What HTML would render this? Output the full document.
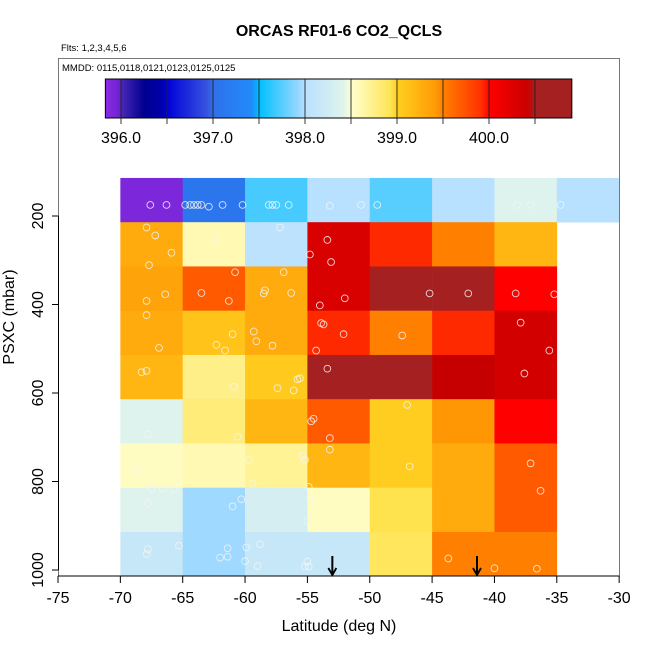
<!DOCTYPE html>
<html><head><meta charset="utf-8"><style>
html,body{margin:0;padding:0;background:#fff;}
svg text{font-family:"Liberation Sans",Arial,sans-serif;}
</style></head><body>
<svg id="chart" width="650" height="650" viewBox="0 0 650 650" xmlns="http://www.w3.org/2000/svg">
<defs id="defs"></defs>
<text x="339" y="36" text-anchor="middle" font-size="16" font-weight="bold">ORCAS RF01-6 CO2_QCLS</text>
<text x="61" y="51" font-size="9.5">Flts: 1,2,3,4,5,6</text>
<g id="cells"></g>
<g id="points"></g>
<g id="arrows"></g>
<rect x="58.5" y="58.5" width="561" height="517.5" fill="none" stroke="#777" stroke-width="1"/>
<text x="62" y="71" font-size="9.5">MMDD: 0115,0118,0121,0123,0125,0125</text>
<g id="colorbar"></g>
<g id="xaxis"></g>
<g id="yaxis"></g>
<text x="339" y="631" text-anchor="middle" font-size="16">Latitude (deg N)</text>
<text transform="translate(14,317) rotate(-90)" text-anchor="middle" font-size="16">PSXC (mbar)</text>
</svg>
<script>
const latBins = [-70,-65,-60,-55,-50,-45,-40,-35];
const presBins = [114,214,314,414,514,614,714,814,914,1014];
const row1 = [395.9,397.1,397.7,398.0,397.75,398.0,398.4,398.0];
const row2 = [399.3,398.6,398.05,400.3,399.95,399.5,399.2,null];
const row3 = [399.35,399.7,399.3,400.3,400.7,400.65,400.0,null];
const row4 = [399.3,399.1,399.3,399.95,399.5,399.95,400.35,null];
const row5 = [399.2,398.75,399.05,400.55,400.5,400.45,400.35,null];
const row6 = [398.4,398.8,399.2,399.7,399.02,399.45,400.0,null];
const row7 = [398.55,398.6,398.7,399.2,399.02,399.3,399.7,null];
const row8 = [398.4,397.95,398.3,398.55,398.95,399.3,399.7,null];
const row9 = [398.15,397.95,398.15,398.15,398.9,399.5,399.5,null];
const pointLat = [-67.6,-66.3,-64.8,-64.4,-64.1,-63.8,-63.5,-62.9,-61.8,-60.2,-58.1,-57.8,-57.5,-56.5,-53.2,-50.7,-49.4,-38.2,-37.1,-34.7,
-67.9,-67.2,-65.9,-67.7,-62.3,-57.2,-53.4,-54.8,-53.1,-60.8,-56.9,-63.5,-61.3,-58.4,-58.5,-56.3,-66.4,-67.9,-52.0,-54.0,-45.2,-42.1,-38.3,-35.2,
-67.9,-66.9,-61.0,-62.3,-61.6,-59.3,-59.1,-57.8,-53.9,-53.7,-52.1,-54.3,-47.4,-37.9,-35.6,
-68.3,-67.9,-60.9,-57.4,-56.1,-55.8,-55.6,-53.4,-37.6,
-67.8,-60.6,-47.0,-54.5,-54.7,-53.2,-53.2,
-68.7,-59.7,-55.4,-55.2,-46.8,-37.1,-59.4,
-67.5,-66.6,-65.7,-67.8,-60.3,-61.0,-54.9,-54.8,-55.0,-36.3,
-67.8,-67.9,-65.3,-61.4,-62.0,-61.4,-59.9,-58.8,-60.0,-59.0,-55.0,-55.2,-54.9,-43.7,-40.0,-36.6];
const pointPres = [175,175,175,175,175,175,175,179,175,175,175,175,175,175,177,175,175,175,175,175,
226,244,283,311,254,226,254,287,304,327,327,374,392,368,375,374,377,392,386,402,375,375,375,377,
424,498,467,491,504,461,483,493,442,445,467,504,470,441,504,
553,550,586,589,594,569,567,545,556,
694,699,627,658,664,702,728,
772,752,742,751,766,759,805,
815,815,817,849,840,856,812,839,889,821,
953,964,945,951,972,970,949,942,980,991,981,992,992,974,996,997];
const arrowLat = [-53.0,-41.4];
const xTicks = [-75,-70,-65,-60,-55,-50,-45,-40,-35,-30];
const yTicks = [200,400,600,800,1000];
const cbTicks = [396.0,397.0,398.0,399.0,400.0];
const cbBreaks = [396.0,396.5,397.0,397.5,398.0,398.5,399.0,399.5,400.0,400.5];

const NS='http://www.w3.org/2000/svg';
function X(lat){return 58 + (lat+75)*12.47;}
function Y(p){return 570 - (1000-p)*0.4425;}
function CX(v){return 121 + (v-396)*92;}
function el(tag,attrs,parent){const e=document.createElementNS(NS,tag);for(const k in attrs)e.setAttribute(k,attrs[k]);parent.appendChild(e);return e;}
const stops=[[395.83,'#8a2be2'],[395.999,'#6a22d0'],[396.0,'#4b28b8'],[396.25,'#000090'],[396.499,'#0000b0'],[396.5,'#0000d8'],[396.999,'#4060e0'],[397.0,'#3070e8'],[397.499,'#1e90ff'],[397.5,'#00bfff'],[397.999,'#b0dcff'],[398.0,'#b8e0ff'],[398.499,'#e8f8e8'],[398.5,'#ffffd0'],[398.999,'#ffe040'],[399.0,'#ffd020'],[399.499,'#ff9000'],[399.5,'#ff8000'],[399.999,'#ff2000'],[400.0,'#ff0000'],[400.499,'#c00000'],[400.5,'#a52020'],[401,'#a52020']];
function hex(c){return [1,3,5].map(i=>parseInt(c.substr(i,2),16));}
function color(v){
  if(v<=stops[0][0])return stops[0][1];
  for(let i=1;i<stops.length;i++){if(v<=stops[i][0]){const a=stops[i-1],b=stops[i];const t=(v-a[0])/(b[0]-a[0]);const ca=hex(a[1]),cb=hex(b[1]);return 'rgb('+ca.map((c,j)=>Math.round(c+(cb[j]-c)*t)).join(',')+')';}}
  return stops[stops.length-1][1];
}
const rows=[row1,row2,row3,row4,row5,row6,row7,row8,row9];
const cells=document.getElementById('cells');
rows.forEach((row,ri)=>{row.forEach((v,ci)=>{if(v===null)return;
  const r=el('rect',{x:X(latBins[ci]),y:Y(presBins[ri]),width:X(latBins[ci]+5)-X(latBins[ci])+0.3,height:Math.min(Y(presBins[ri+1]),576)-Y(presBins[ri])+0.3,fill:color(v)},cells);
  
  
});});
const pts=document.getElementById('points');
pointLat.forEach((la,i)=>{
  const c=el('circle',{cx:X(la),cy:Y(pointPres[i]),r:3.4,fill:'none',stroke:'#f4f4f4','stroke-width':0.9,opacity:0.85},pts);
  
  
});
const arr=document.getElementById('arrows');
arrowLat.forEach(la=>{
  const g=el('g',{},arr);
  
  
  const x=X(la);
  el('line',{x1:x,y1:556,x2:x,y2:575,stroke:'#000','stroke-width':2},g);
  el('polyline',{points:(x-4)+',568 '+x+',575 '+(x+4)+',568',fill:'none',stroke:'#000','stroke-width':1.8},g);
});
const cb=document.getElementById('colorbar');
const defs=document.getElementById('defs');
const edges=[395.83].concat(cbBreaks).concat([400.9]);
for(let i=0;i<edges.length-1;i++){
  const a=edges[i],b=edges[i+1];
  const gid='g'+i;
  const lg=el('linearGradient',{id:gid,x1:'0',x2:'1',y1:'0',y2:'0'},defs);
  for(let k=0;k<=6;k++){el('stop',{offset:k/6,'stop-color':color(a+(b-a)*(k/6)*0.999+0.0005)},lg);}
  const r=el('rect',{x:CX(a),y:79,width:CX(b)-CX(a)+0.3,height:39,fill:'url(#'+gid+')'},cb);
  
  
}
el('rect',{x:CX(395.83),y:79,width:CX(400.9)-CX(395.83),height:39,fill:'none',stroke:'#000','stroke-width':1},cb);
cbBreaks.forEach(v=>{el('line',{x1:CX(v),y1:79,x2:CX(v),y2:124,stroke:'#222','stroke-width':0.9},cb);});
cbTicks.forEach(v=>{const t=el('text',{x:CX(v),y:143,'text-anchor':'middle','font-size':16},cb);t.textContent=v.toFixed(1);
  
  });
const xa=document.getElementById('xaxis');
el('line',{x1:X(-75),y1:576,x2:X(-30),y2:576,stroke:'#000','stroke-width':1},xa);
xTicks.forEach(v=>{el('line',{x1:X(v),y1:576,x2:X(v),y2:583,stroke:'#000'},xa);
  const t=el('text',{x:X(v),y:603,'text-anchor':'middle','font-size':16},xa);t.textContent=v;
  
  });
const ya=document.getElementById('yaxis');
el('line',{x1:58.5,y1:Y(200),x2:58.5,y2:Y(1000),stroke:'#000','stroke-width':1},ya);
yTicks.forEach(v=>{el('line',{x1:52,y1:Y(v),x2:58.5,y2:Y(v),stroke:'#000'},ya);
  const t=el('text',{transform:'translate(43,'+Y(v)+') rotate(-90)','text-anchor':'middle','font-size':16},ya);t.textContent=v;
  
  });
</script>
</body></html>
